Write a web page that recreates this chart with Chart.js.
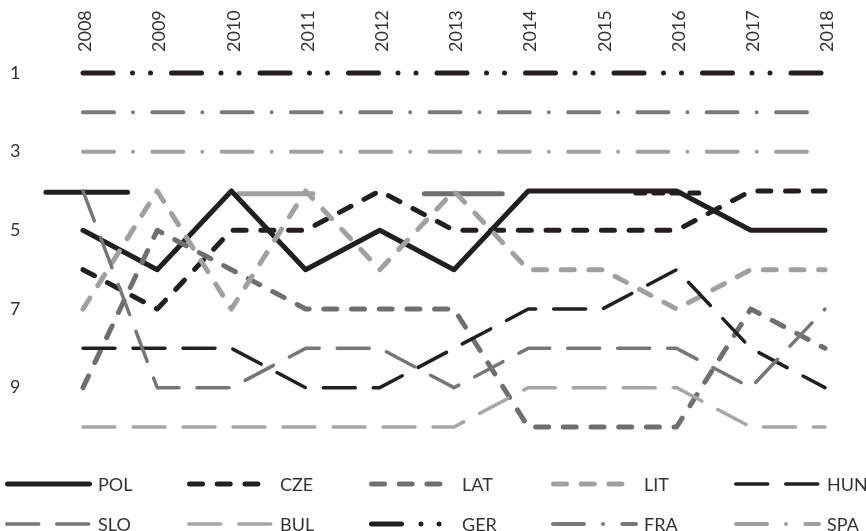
<!DOCTYPE html>
<html>
<head>
<meta charset="utf-8">
<script src="https://cdn.jsdelivr.net/npm/chart.js@4.4.1/dist/chart.umd.min.js"></script>
<style>
html,body{margin:0;padding:0;background:#fff;}
#wrap{width:866px;height:531px;position:relative;}
</style>
</head>
<body>
<div id="wrap"><canvas id="c" width="866" height="531"></canvas></div>
<script>
// ---- data (ranks) ----
const years = [2008, 2009, 2010, 2011, 2012, 2013, 2014, 2015, 2016, 2017, 2018];
const rankTicks = [1, 3, 5, 7, 9];
const seriesNames = ['POL', 'CZE', 'LAT', 'LIT', 'HUN', 'SLO', 'BUL', 'GER', 'FRA', 'SPA'];
const POL = [5, 6, 4, 6, 5, 6, 4, 4, 4, 5, 5];
const CZE = [6, 7, 5, 5, 4, 5, 5, 5, 5, 4, 4];
const LAT = [9, 5, 6, 7, 7, 7, 10, 10, 10, 7, 8];
const LIT = [7, 4, 7, 4, 6, 4, 6, 6, 7, 6, 6];
const HUN = [8, 8, 8, 9, 9, 8, 7, 7, 6, 8, 9];
const SLO = [4, 9, 9, 8, 8, 9, 8, 8, 8, 9, 7];
const BUL = [10, 10, 10, 10, 10, 10, 9, 9, 9, 10, 10];
const GER = [1, 1, 1, 1, 1, 1, 1, 1, 1, 1, 1];
const FRA = [2, 2, 2, 2, 2, 2, 2, 2, 2, 2, 2];
const SPA = [3, 3, 3, 3, 3, 3, 3, 3, 3, 3, 3];
// stray short segments visible around rank 4 in the picture (year span, rank)
const strayStart = [2007.5, 2010.1, 2012.6, 2015.45];
const strayEnd = [2008.6, 2011.1, 2013.65, 2016.4];
const strayRank = [4.03, 4.07, 4.07, 4.05];

// ---- styles ----
const BLACK = '#231f20', DARK = '#767676', LIGHT = '#a0a0a0';
const seriesValues = [POL, CZE, LAT, LIT, HUN, SLO, BUL, GER, FRA, SPA];
const seriesStyle = [
  {color: BLACK, width: 5, dash: []},
  {color: BLACK, width: 5, dash: [13, 14.7]},
  {color: '#6f6f6f', width: 5, dash: [13, 14.7]},
  {color: LIGHT, width: 5, dash: [13, 14.7]},
  {color: BLACK, width: 3.5, dash: [32, 18]},
  {color: DARK, width: 3.5, dash: [32, 18]},
  {color: '#a6a6a6', width: 3.5, dash: [32, 18]},
  {color: BLACK, width: 5, dash: [30, 19.5, 0, 18, 0, 21]},
  {color: '#7a7a7a', width: 4, dash: [31, 19, 0, 19.3]},
  {color: LIGHT, width: 4, dash: [31, 19, 0, 19.3]}
];
const strayStyle = [
  {color: BLACK, width: 5, dash: []},
  {color: LIGHT, width: 5, dash: []},
  {color: '#6f6f6f', width: 5, dash: []},
  {color: BLACK, width: 5, dash: [9, 9]}
];

const datasets = seriesNames.map((name, i) => ({
  label: name,
  data: years.map((yr, j) => ({x: yr, y: seriesValues[i][j]})),
  borderColor: seriesStyle[i].color,
  backgroundColor: seriesStyle[i].color,
  borderWidth: seriesStyle[i].width,
  borderDash: seriesStyle[i].dash,
  borderCapStyle: 'round',
  borderJoinStyle: 'round',
  pointRadius: 0,
  tension: 0,
  fill: false,
  clip: false,
  order: 10 - i
}));
strayStart.forEach((s, k) => {
  datasets.push({
    label: '_stray' + k,
    data: [{x: s, y: strayRank[k]}, {x: strayEnd[k], y: strayRank[k]}],
    borderColor: strayStyle[k].color,
    borderWidth: strayStyle[k].width,
    borderDash: strayStyle[k].dash,
    borderCapStyle: 'round',
    pointRadius: 0,
    fill: false,
    clip: false,
    order: 20
  });
});

const FONT = 'Lato, "Open Sans", sans-serif';

const gridLegend = {
  id: 'gridLegend',
  afterDraw(chart) {
    const ctx = chart.ctx;
    const cols = [5, 187, 369, 551, 734];
    const rows = [484, 524];
    const keyLen = 87;
    seriesNames.forEach((name, i) => {
      const st = seriesStyle[i];
      const x = cols[i % 5], y = rows[Math.floor(i / 5)];
      ctx.save();
      ctx.strokeStyle = st.color;
      ctx.lineWidth = st.width;
      ctx.lineCap = 'round';
      ctx.setLineDash(st.dash);
      ctx.beginPath();
      ctx.moveTo(x + st.width / 2, y);
      ctx.lineTo(x + keyLen - st.width / 2, y);
      ctx.stroke();
      ctx.setLineDash([]);
      ctx.fillStyle = '#333333';
      ctx.font = '18px ' + FONT;
      ctx.textBaseline = 'middle';
      ctx.textAlign = 'left';
      ctx.fillText(name, x + 93, y + 1);
      ctx.restore();
    });
  }
};

new Chart(document.getElementById('c'), {
  type: 'line',
  data: {datasets},
  plugins: [gridLegend],
  options: {
    responsive: false,
    animation: false,
    devicePixelRatio: 1,
    layout: {padding: {left: 10, right: 41, top: 0, bottom: 104}},
    plugins: {legend: {display: false}, tooltip: {enabled: false}},
    scales: {
      x: {
        type: 'linear',
        position: 'top',
        min: 2008,
        max: 2018,
        grid: {display: false, drawTicks: false},
        border: {display: false},
        afterBuildTicks: (axis) => { axis.ticks = years.map(v => ({value: v})); },
        afterFit: (axis) => { axis.height = 73; },
        ticks: {
          minRotation: 90,
          maxRotation: 90,
          padding: 21,
          labelOffset: 24,
          autoSkip: false,
          color: '#333333',
          font: {family: FONT, size: 18},
          callback: (v) => String(v)
        }
      },
      y: {
        type: 'linear',
        reverse: true,
        min: 1,
        max: 10,
        grid: {display: false, drawTicks: false},
        border: {display: false},
        afterBuildTicks: (axis) => { axis.ticks = rankTicks.map(v => ({value: v})); },
        afterFit: (axis) => { axis.width = 73; },
        ticks: {
          crossAlign: 'far',
          padding: 0,
          color: '#333333',
          font: {family: FONT, size: 18},
          callback: (v) => String(v)
        }
      }
    }
  }
});
</script>
</body>
</html>
